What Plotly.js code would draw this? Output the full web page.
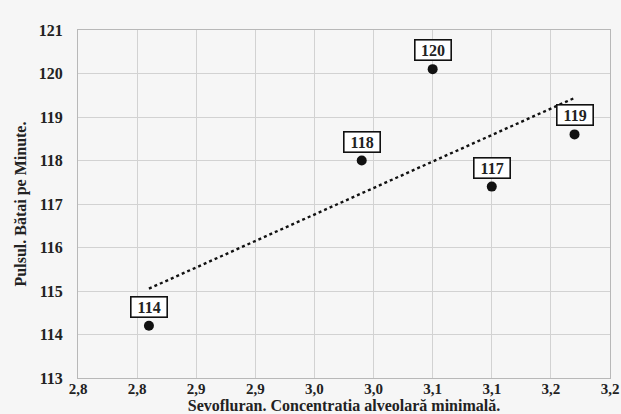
<!DOCTYPE html>
<html>
<head>
<meta charset="utf-8">
<script src="https://cdn.plot.ly/plotly-3.0.1.min.js"></script>
<style>html,body{margin:0;padding:0;background:#f6f6f6;}#chart{width:621px;height:414px;}</style>
</head>
<body>
<div id="chart"></div>
<script>
// Data
var sevoMAC = [2.81, 2.99, 3.05, 3.10, 3.17];
var pulse = [114.2, 118.0, 120.1, 117.4, 118.6];
var pointLabels = ['114', '118', '120', '117', '119'];
var xTickVals = [2.75, 2.80, 2.85, 2.90, 2.95, 3.00, 3.05, 3.10, 3.15, 3.20];
var xTickText = ['2,8', '2,8', '2,9', '2,9', '3,0', '3,0', '3,1', '3,1', '3,2', '3,2'];
var yTickVals = [113, 114, 115, 116, 117, 118, 119, 120, 121];

// Linear trendline (least squares) from the data
var n = sevoMAC.length, mx = 0, my = 0;
for (var i = 0; i < n; i++) { mx += sevoMAC[i]; my += pulse[i]; }
mx /= n; my /= n;
var sxy = 0, sxx = 0;
for (var i = 0; i < n; i++) { sxy += (sevoMAC[i]-mx)*(pulse[i]-my); sxx += (sevoMAC[i]-mx)*(sevoMAC[i]-mx); }
var slope = sxy / sxx, icpt = my - slope*mx;
var xmin = Math.min.apply(null, sevoMAC), xmax = Math.max.apply(null, sevoMAC);
var trendX = [xmin, xmax];
var trendY = trendX.map(function(x){ return icpt + slope*x; });

var font = 'Liberation Serif, DejaVu Serif, serif';
function bold(s){ return '<b>' + s + '</b>'; }

var traces = [
  {x: trendX, y: trendY, type: 'scatter', mode: 'lines',
   line: {color: '#111', width: 2.4, dash: 'dot'}, hoverinfo: 'skip'},
  {x: sevoMAC, y: pulse, type: 'scatter', mode: 'markers',
   marker: {color: '#111', size: 10}}
];

var annotations = sevoMAC.map(function(x, i){
  return {x: x, y: pulse[i], text: bold(pointLabels[i]), showarrow: false,
    xanchor: 'center', yanchor: 'middle', yshift: 19,
    font: {family: font, size: 16, color: '#222'},
    bgcolor: '#ffffff', bordercolor: '#111', borderwidth: 1.6, borderpad: 1,
    width: 33, height: 17};
});

var layout = {
  width: 621, height: 414,
  margin: {l: 78, r: 11, t: 30, b: 36},
  paper_bgcolor: '#f6f6f6', plot_bgcolor: '#f6f6f6',
  showlegend: false,
  font: {family: font, color: '#222'},
  xaxis: {
    range: [2.75, 3.2], tickvals: xTickVals, ticktext: xTickText.map(bold),
    tickfont: {family: font, size: 15, color: '#222', weight: 'bold'},
    showgrid: true, gridcolor: '#d2d2d2', gridwidth: 1,
    showline: true, linecolor: '#b8b8b8', linewidth: 1, mirror: true,
    zeroline: false, ticks: '', ticklabelstandoff: -3,
    automargin: false,
    title: {text: bold('Sevofluran. Concentratia alveolară minimală.'),
            font: {family: font, size: 16, color: '#222'}, standoff: 5}
  },
  yaxis: {
    range: [113, 121], tickvals: yTickVals, ticktext: yTickVals.map(function(v){ return bold(String(v)); }),
    tickfont: {family: font, size: 16, color: '#222', weight: 'bold'},
    showgrid: true, gridcolor: '#d2d2d2', gridwidth: 1,
    showline: true, linecolor: '#b8b8b8', linewidth: 1, mirror: true,
    zeroline: false, ticks: '', ticklabelstandoff: 11,
    automargin: false,
    title: {text: bold('Pulsul. Bătai pe Minute.'),
            font: {family: font, size: 16, color: '#222'}, standoff: 8}
  },
  annotations: annotations
};

Plotly.newPlot('chart', traces, layout, {displayModeBar: false, staticPlot: true});
</script>
</body>
</html>
